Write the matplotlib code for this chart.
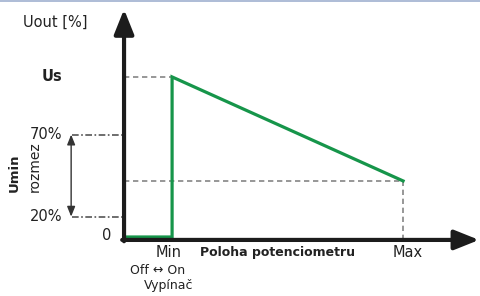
import matplotlib.pyplot as plt

# schematic values: potentiometer position (Min=0, Max=100), output level (Us=100)
pos_off = -20.8          # y axis / switch off position
pos_min = 0.0
pos_max = 100.0
u_s = 100.0
u_end = 36.2             # level reached at Max
u_70 = 64.6              # schematic height of the 70% mark
u_20 = 14.3              # schematic height of the 20% mark
u_floor = 1.8            # green line while switched off

curve_x = [pos_off, pos_min, pos_min, pos_max]
curve_y = [u_floor, u_floor, u_s, u_end]

green = '#16954a'
grey = '#858585'
black = '#1c1c1c'
dash = (0, (3.2, 2.2))

fig = plt.figure(figsize=(4.8, 2.96), dpi=100)
ax = fig.add_axes([0, 0, 1, 1])
ax.set_xlim(-74.5, 133.3)
ax.set_ylim(-34.4, 147.2)
ax.axis('off')

# top border line
fig.add_artist(plt.Line2D([0, 1], [0.998, 0.998], color='#9fb0d0', lw=1.2))

# dashed guides
ax.plot([pos_off, pos_min], [u_s, u_s], color=grey, lw=1.2, ls=dash)
ax.plot([pos_off, pos_max], [u_end, u_end], color=grey, lw=1.2, ls=dash)
ax.plot([pos_max, pos_max], [0, u_end], color=grey, lw=1.2, ls=dash)
ax.plot([-43.5, pos_off], [u_70, u_70], color='#555555', lw=1.2, ls=(0, (4, 1.5, 1, 1.5)))
ax.plot([-43.5, pos_off], [u_20, u_20], color='#555555', lw=1.2, ls=(0, (4, 1.5, 1, 1.5)))

# range arrow
ax.annotate('', xy=(-43.7, u_70), xytext=(-43.7, u_20),
            arrowprops=dict(arrowstyle='<|-|>,head_length=0.5,head_width=0.2', color='#333333', lw=1,
                            mutation_scale=12, shrinkA=0, shrinkB=0))

# axes arrows
ax.annotate('', xy=(pos_off, 141.5), xytext=(pos_off, -0.8), annotation_clip=False,
            arrowprops=dict(arrowstyle='-|>,head_length=0.75,head_width=0.3', color=black, lw=3,
                            mutation_scale=20, shrinkA=0, shrinkB=0))
ax.annotate('', xy=(132.9, 0), xytext=(pos_off - 0.8, 0), annotation_clip=False,
            arrowprops=dict(arrowstyle='-|>,head_length=0.75,head_width=0.3', color=black, lw=3,
                            mutation_scale=20, shrinkA=0, shrinkB=0))

# output curve
ax.plot(curve_x, curve_y, color=green, lw=2.3, solid_joinstyle='miter')

# texts
ax.text(-64.5, 133.5, 'Uout [%]', fontsize=10.5, ha='left', va='center', color='#222222')
ax.text(-47.6, u_s, 'Us', fontsize=10.5, fontweight='bold', ha='right', va='center', color='#222222')
ax.text(-47.5, u_70, '70%', fontsize=10.5, ha='right', va='center', color='#222222')
ax.text(-47.5, u_20, '20%', fontsize=10.5, ha='right', va='center', color='#222222')
ax.text(-26.5, 2.5, '0', fontsize=10.5, ha='right', va='center', color='#222222')
ax.text(-68.2, 29.5, 'Umin', fontsize=9.5, fontweight='bold', rotation=90,
        rotation_mode='anchor', ha='left', va='center', color='#222222')
ax.text(-59.5, 29.5, 'rozmez', fontsize=10, rotation=90,
        rotation_mode='anchor', ha='left', va='center', color='#222222')
ax.text(pos_min - 1.5, -7.5, 'Min', fontsize=10.5, ha='center', va='center', color='#222222')
ax.text(pos_max + 2, -7.5, 'Max', fontsize=10.5, ha='center', va='center', color='#222222')
ax.text(45.5, -7.5, 'Poloha potenciometru', fontsize=9, fontweight='bold',
        ha='center', va='center', color='#222222')
ax.text(-6.3, -18.5, 'Off \u2194 On', fontsize=9, ha='center', va='center', color='#222222')
ax.text(-1.7, -28.0, 'Vyp\u00edna\u010d', fontsize=9, ha='center', va='center', color='#222222')

fig.savefig('out.png', dpi=100)
